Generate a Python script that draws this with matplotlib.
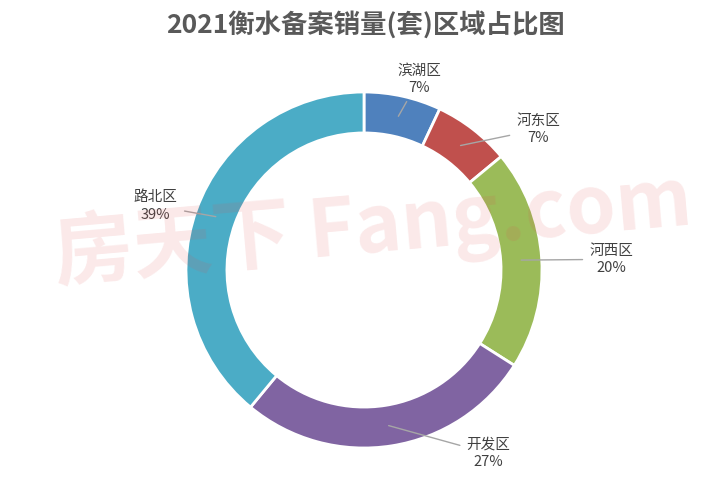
import matplotlib
matplotlib.use("Agg")
import matplotlib.pyplot as plt
import numpy as np

plt.rcParams["font.family"] = ["Noto Sans CJK SC", "DejaVu Sans"]

# data
districts = ["滨湖区", "河东区", "河西区", "开发区", "路北区"]
shares = [7, 7, 20, 27, 39]
colors = ["#4F81BD", "#C0504D", "#9BBB59", "#8064A2", "#4BACC6"]
title = "2021衡水备案销量(套)区域占比图"

# label positions (relative to donut radius)
label_pos = [(0.31, 1.07), (0.98, 0.79), (1.39, 0.06), (0.70, -1.03), (-1.17, 0.36)]

fig = plt.figure(figsize=(7.16, 4.86), dpi=100)
ax = fig.add_axes([0, 0, 1, 1])

ring = 0.23
wedges, _ = ax.pie(
    shares,
    colors=colors,
    startangle=90,
    counterclock=False,
    radius=1.0,
    wedgeprops=dict(width=ring, edgecolor="white", linewidth=2),
)

# leader lines + labels
for w, name, val, (lx, ly) in zip(wedges, districts, shares, label_pos):
    ang = np.deg2rad((w.theta1 + w.theta2) / 2)
    r = 1 - ring / 2
    ax.annotate(
        f"{name}\n{val}%",
        xy=(r * np.cos(ang), r * np.sin(ang)),
        xytext=(lx, ly),
        ha="center", va="center",
        fontsize=10.5, color="#404040", linespacing=1.3,
        arrowprops=dict(arrowstyle="-", color="#a6a6a6", lw=1,
                        shrinkA=3, shrinkB=0),
    )

# pixel scale: radius 178 px, center at (364, 270 from top)
scale = 178
ax.set_xlim(-364 / scale, (716 - 364) / scale)
ax.set_ylim(-216 / scale, 270 / scale)
ax.set_aspect("auto")
ax.axis("off")

fig.text(0.51, 0.948, title, ha="center", va="center",
         fontsize=19, fontweight="bold", color="#595959")

# watermark
fig.text(0.07, 0.53, "房天下 Fang.com", fontsize=57, fontweight="bold",
         color="#e05050", alpha=0.13, rotation=5, ha="left", va="center")

fig.savefig("out.png", dpi=100)
